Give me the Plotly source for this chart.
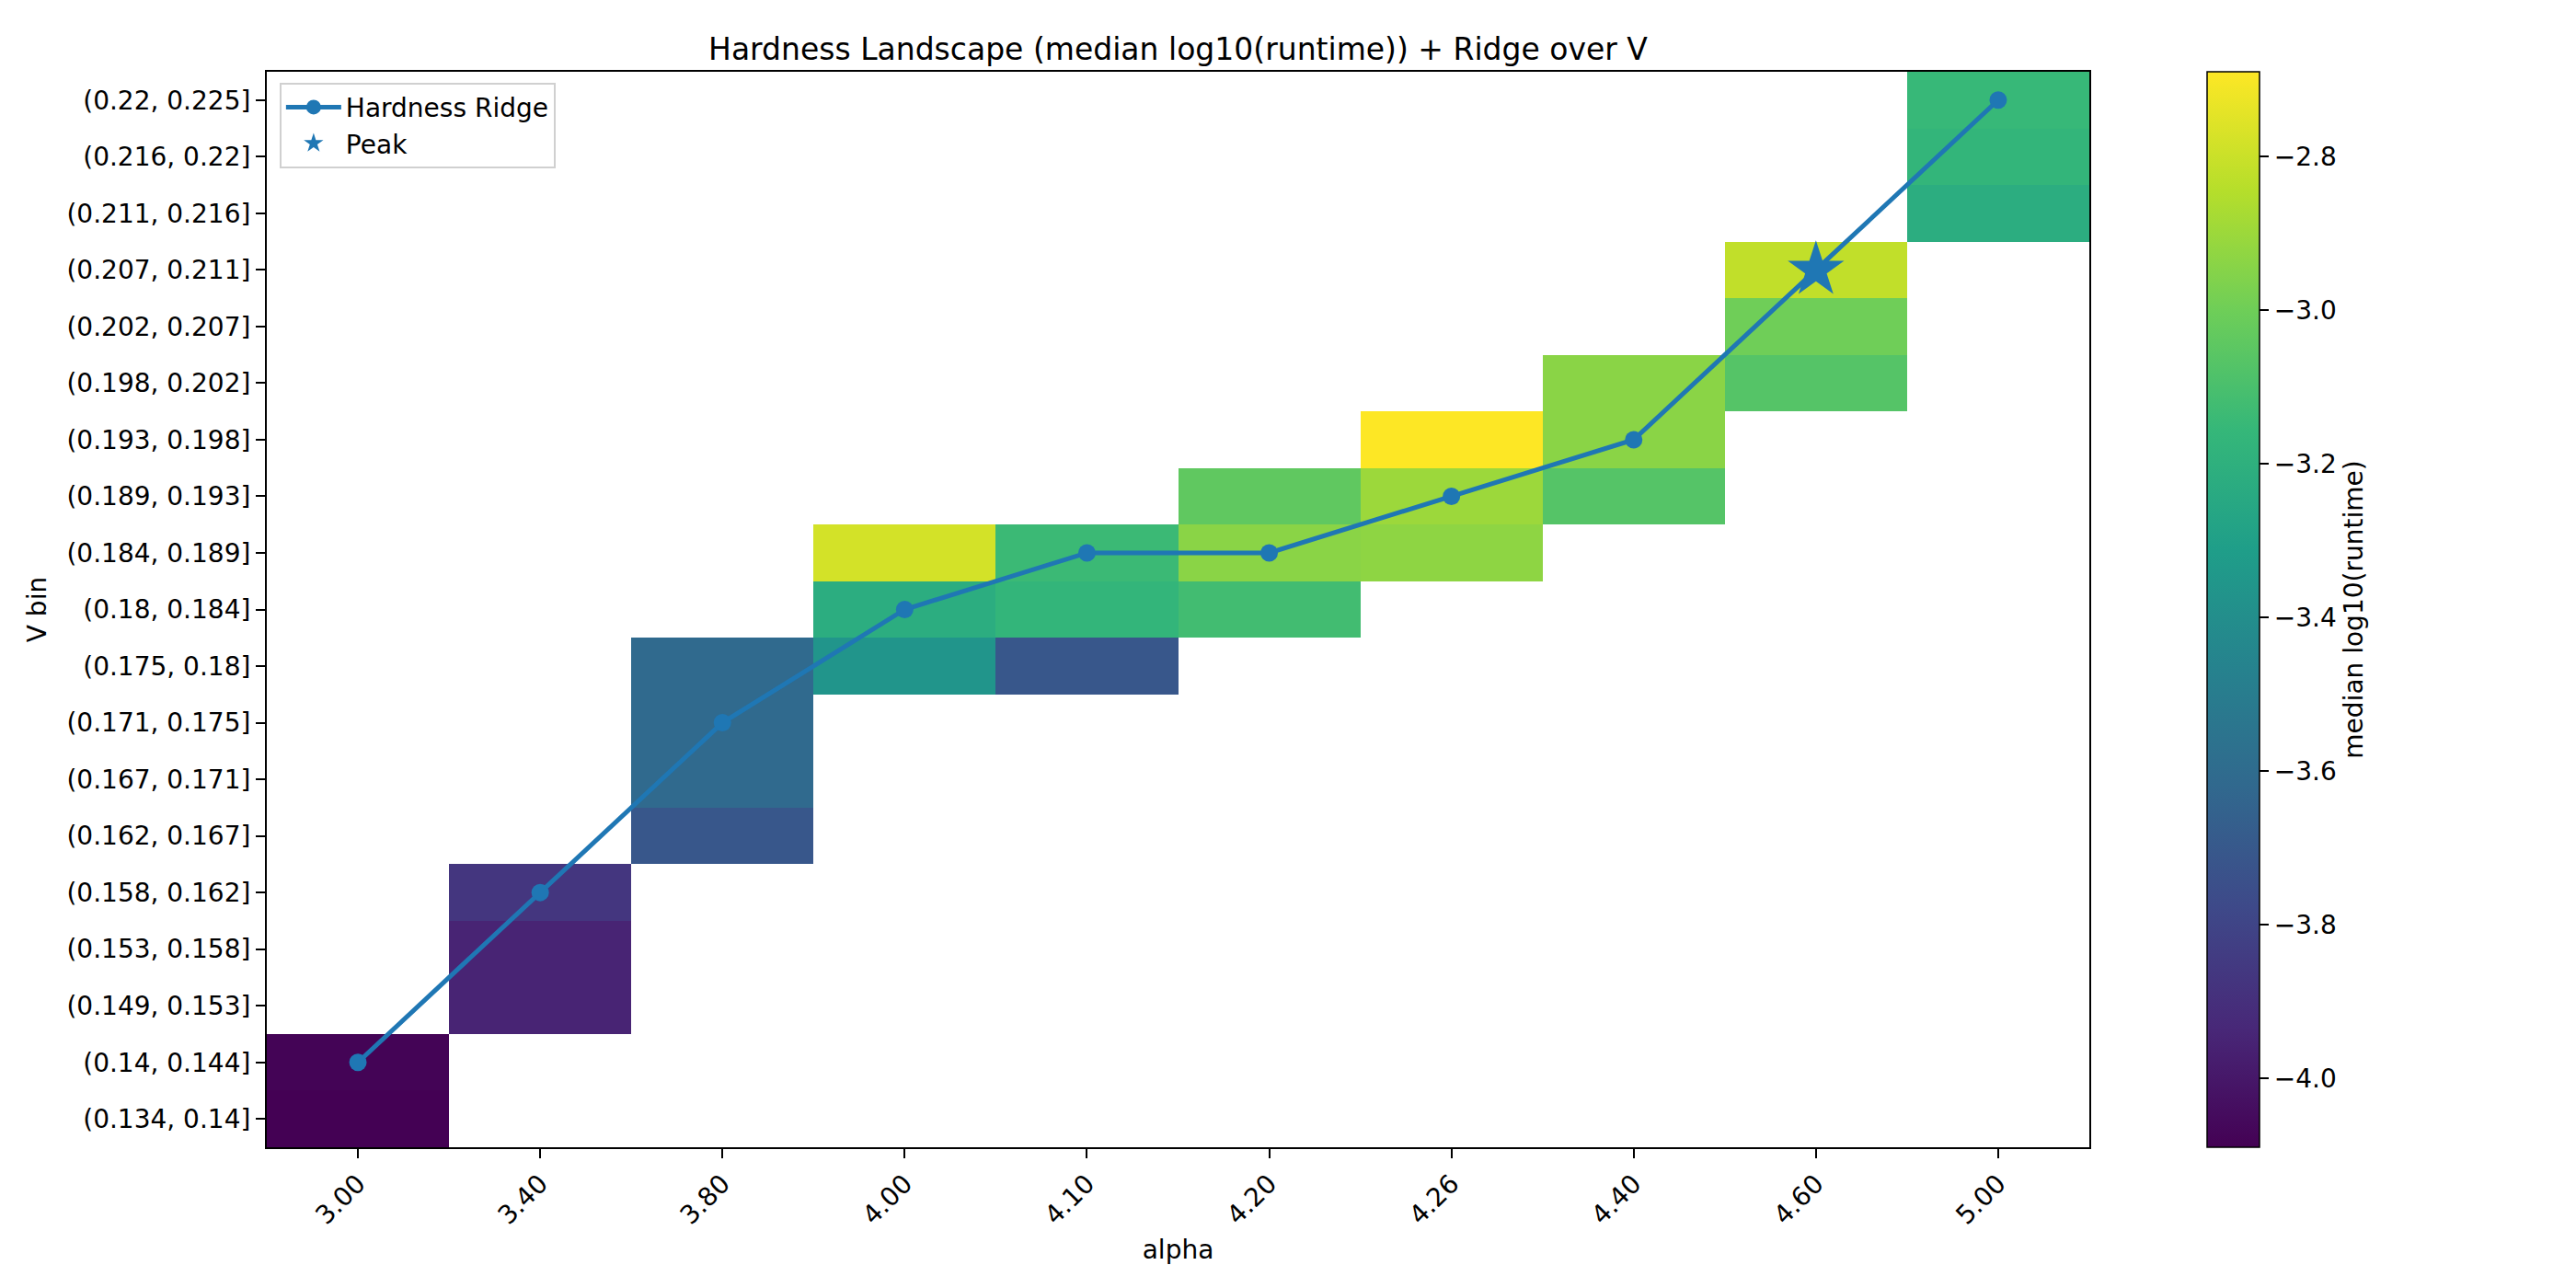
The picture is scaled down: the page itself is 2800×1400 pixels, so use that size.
import pandas as pd
import plotly.graph_objects as go

# ── data ──────────────────────────────────────────────────────
alpha_labels = ["3.00", "3.40", "3.80", "4.00", "4.10", "4.20", "4.26", "4.40", "4.60", "5.00"]
vbin_labels = [
    "(0.134, 0.14]", "(0.14, 0.144]", "(0.149, 0.153]", "(0.153, 0.158]",
    "(0.158, 0.162]", "(0.162, 0.167]", "(0.167, 0.171]", "(0.171, 0.175]",
    "(0.175, 0.18]", "(0.18, 0.184]", "(0.184, 0.189]", "(0.189, 0.193]",
    "(0.193, 0.198]", "(0.198, 0.202]", "(0.202, 0.207]", "(0.207, 0.211]",
    "(0.211, 0.216]", "(0.216, 0.22]", "(0.22, 0.225]",
]

# non-empty cells: alpha, V bin, median log10(runtime)
cell_alpha = (["3.00"] * 2 + ["3.40"] * 3 + ["3.80"] * 4 + ["4.00"] * 3 + ["4.10"] * 3
              + ["4.20"] * 3 + ["4.26"] * 3 + ["4.40"] * 3 + ["4.60"] * 3 + ["5.00"] * 3)
cell_vbin = [
    "(0.134, 0.14]", "(0.14, 0.144]",
    "(0.149, 0.153]", "(0.153, 0.158]", "(0.158, 0.162]",
    "(0.162, 0.167]", "(0.167, 0.171]", "(0.171, 0.175]", "(0.175, 0.18]",
    "(0.175, 0.18]", "(0.18, 0.184]", "(0.184, 0.189]",
    "(0.175, 0.18]", "(0.18, 0.184]", "(0.184, 0.189]",
    "(0.18, 0.184]", "(0.184, 0.189]", "(0.189, 0.193]",
    "(0.184, 0.189]", "(0.189, 0.193]", "(0.193, 0.198]",
    "(0.189, 0.193]", "(0.193, 0.198]", "(0.198, 0.202]",
    "(0.198, 0.202]", "(0.202, 0.207]", "(0.207, 0.211]",
    "(0.211, 0.216]", "(0.216, 0.22]", "(0.22, 0.225]",
]
cell_value = [
    -4.09, -4.08,
    -3.95, -3.95, -3.87,
    -3.71, -3.61, -3.61, -3.61,
    -3.36, -3.22, -2.78,
    -3.71, -3.17, -3.14,
    -3.12, -2.94, -3.04,
    -2.93, -2.90, -2.69,
    -3.07, -2.94, -2.94,
    -3.07, -3.00, -2.82,
    -3.22, -3.17, -3.15,
]

ridge_alpha = alpha_labels
ridge_vbin = [
    "(0.14, 0.144]", "(0.158, 0.162]", "(0.171, 0.175]", "(0.18, 0.184]",
    "(0.184, 0.189]", "(0.184, 0.189]", "(0.189, 0.193]", "(0.193, 0.198]",
    "(0.207, 0.211]", "(0.22, 0.225]",
]
peak_alpha = ["4.60"]
peak_vbin = ["(0.207, 0.211]"]

cbar_ticks = [-4.0, -3.8, -3.6, -3.4, -3.2, -3.0, -2.8]

# ── build grid ────────────────────────────────────────────────
cells = pd.DataFrame({"alpha": cell_alpha, "vbin": cell_vbin, "val": cell_value})
grid = (cells.pivot(index="vbin", columns="alpha", values="val")
             .reindex(index=vbin_labels, columns=alpha_labels))
z = [[None if pd.isna(v) else v for v in row] for row in grid.values.tolist()]

BLUE = "#1f77b4"
FONT = "DejaVu Sans"
TICK = 28

# plot box in page pixels
L, R, T, B = 282, 537, 70, 161
plot_w = 2800 - L - R

fig = go.Figure()
fig.add_trace(go.Heatmap(
    x=alpha_labels, y=vbin_labels, z=z,
    colorscale="Viridis", zmin=-4.09, zmax=-2.69,
    showscale=True, hoverongaps=False,
    colorbar=dict(
        x=(2391 - L) / plot_w, xanchor="left", xpad=0, ypad=0,
        y=0, yanchor="bottom", len=1, lenmode="fraction",
        thickness=57, outlinewidth=1.5, outlinecolor="black",
        ticks="outside", ticklen=10, tickwidth=2, tickcolor="black",
        tickvals=cbar_ticks,
        ticktext=[f"\u2212{abs(t):.1f}" for t in cbar_ticks],
        tickfont=dict(size=TICK, family=FONT, color="black"),
        title=dict(text="median log10(runtime)", side="right",
                   font=dict(size=TICK, family=FONT, color="black")),
    ),
    showlegend=False,
))
fig.add_trace(go.Scatter(
    x=ridge_alpha, y=ridge_vbin, mode="lines+markers", name="Hardness Ridge",
    line=dict(color=BLUE, width=5),
    marker=dict(color=BLUE, size=19),
))
fig.add_trace(go.Scatter(
    x=peak_alpha, y=peak_vbin, mode="markers", name="Peak",
    marker=dict(color=BLUE, size=46, symbol="star"),
))

axis_common = dict(
    showline=True, linecolor="black", linewidth=2, mirror=True,
    ticks="outside", ticklen=10, tickwidth=2, tickcolor="black",
    showgrid=False, zeroline=False,
    tickfont=dict(size=TICK, family=FONT, color="black"),
)

fig.update_layout(
    width=2800, height=1400,
    margin=dict(l=L, r=R, t=T, b=B),
    paper_bgcolor="white", plot_bgcolor="white",
    font=dict(family=FONT, color="black"),
    title=dict(text="Hardness Landscape (median log10(runtime)) + Ridge over V",
               x=(L + L + plot_w) / 2 / 2800, xanchor="center",
               y=1 - 45 / 1400, yanchor="middle",
               font=dict(size=33, family=FONT, color="black")),
    xaxis=dict(axis_common, type="category", categoryorder="array",
               categoryarray=alpha_labels, range=[-0.5, 9.5], tickangle=-45,
               title=dict(text="alpha", font=dict(size=TICK, family=FONT), standoff=12)),
    yaxis=dict(axis_common, type="category", categoryorder="array",
               categoryarray=vbin_labels, range=[-0.5, 18.5],
               title=dict(text="V bin", font=dict(size=TICK, family=FONT), standoff=14)),
    legend=dict(x=0.007, y=0.99, xanchor="left", yanchor="top",
                bgcolor="rgba(255,255,255,0.8)", bordercolor="#d0d0d0", borderwidth=2,
                font=dict(size=TICK, family=FONT, color="black"),
                itemsizing="trace", itemwidth=60, tracegroupgap=4),
)

fig.write_html("out.html")
